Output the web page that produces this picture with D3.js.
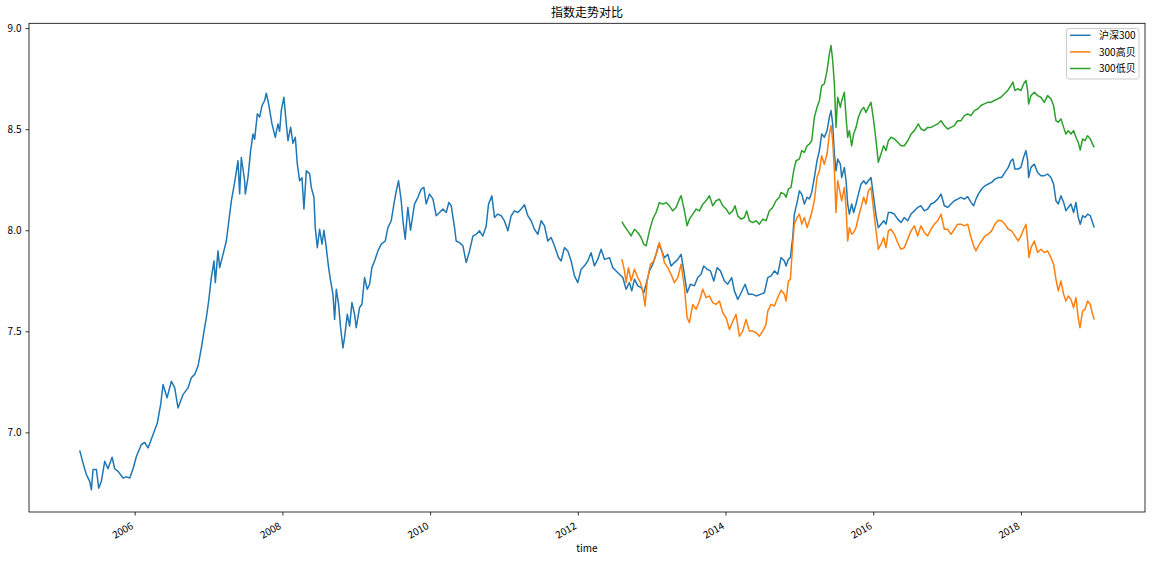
<!DOCTYPE html>
<html><head><meta charset="utf-8">
<script src="https://cdn.jsdelivr.net/npm/d3@7"></script>
<style>
body{margin:0;background:#fff}
text{font-family:"Noto Sans CJK SC","Noto Sans",sans-serif}
</style>
</head><body>
<svg id="c" width="1154" height="562"></svg>
<script>
const chartTitle = "指数走势对比";
const xLabel = "time";
const seriesNames = ["沪深300", "300高贝", "300低贝"];
const seriesColors = ["#1f77b4", "#ff7f0e", "#2ca02c"];
const xTickYears = [2006, 2008, 2010, 2012, 2014, 2016, 2018];
const yTickValues = [7.0, 7.5, 8.0, 8.5, 9.0];

// [decimal year, value]
const hs300 = [
[2005.256,6.911],[2005.301,6.848],[2005.346,6.791],[2005.391,6.758],[2005.414,6.716],[2005.436,6.816],[2005.482,6.816],[2005.513,6.724],[2005.549,6.758],[2005.594,6.857],[2005.639,6.82],[2005.694,6.877],[2005.730,6.82],[2005.775,6.807],[2005.843,6.774],[2005.888,6.78],[2005.933,6.774],[2005.978,6.82],[2006.023,6.881],[2006.091,6.94],[2006.136,6.95],[2006.181,6.923],[2006.249,6.989],[2006.307,7.047],[2006.352,7.138],[2006.384,7.237],[2006.438,7.171],[2006.497,7.253],[2006.542,7.22],[2006.587,7.121],[2006.655,7.187],[2006.722,7.22],[2006.767,7.27],[2006.813,7.287],[2006.858,7.328],[2006.903,7.418],[2006.939,7.501],[2006.970,7.567],[2007.002,7.65],[2007.038,7.766],[2007.074,7.848],[2007.092,7.741],[2007.128,7.898],[2007.151,7.815],[2007.196,7.881],[2007.241,7.947],[2007.309,8.145],[2007.353,8.236],[2007.399,8.344],[2007.421,8.18],
[2007.444,8.36],[2007.489,8.245],[2007.498,8.179],[2007.534,8.261],[2007.570,8.394],[2007.602,8.476],[2007.624,8.45],[2007.661,8.576],[2007.692,8.56],[2007.724,8.617],[2007.760,8.642],[2007.782,8.678],[2007.814,8.625],[2007.859,8.526],[2007.904,8.46],[2007.940,8.526],[2007.963,8.49],[2007.985,8.592],[2008.021,8.658],[2008.053,8.526],[2008.076,8.443],[2008.112,8.51],[2008.143,8.43],[2008.175,8.46],[2008.202,8.328],[2008.233,8.245],[2008.265,8.26],[2008.292,8.105],[2008.324,8.294],[2008.369,8.28],[2008.391,8.212],[2008.427,8.163],[2008.445,8.013],[2008.473,7.914],[2008.504,8.005],[2008.536,7.931],[2008.563,8.0],[2008.594,7.914],[2008.626,7.815],[2008.653,7.749],[2008.685,7.683],[2008.707,7.559],[2008.730,7.708],[2008.761,7.634],[2008.788,7.518],[2008.820,7.418],[2008.842,7.47],[2008.879,7.584],[2008.910,7.526],[2008.942,7.642],[2008.978,7.584],[2009.000,7.518],[2009.045,7.617],[2009.077,7.634],[2009.113,7.766],[2009.149,7.708],[2009.181,7.733],[2009.212,7.815],[2009.248,7.848],[2009.294,7.898],[2009.339,7.931],[2009.393,7.947],[2009.429,8.013],[2009.474,8.047],[2009.510,8.129],[2009.542,8.195],[2009.573,8.245],[2009.609,8.146],[2009.632,8.047],
[2009.663,7.956],[2009.699,8.113],[2009.735,8.0],[2009.789,8.129],[2009.835,8.163],[2009.880,8.204],[2009.916,8.212],[2009.947,8.13],[2009.992,8.179],[2010.038,8.155],[2010.083,8.072],[2010.128,8.088],[2010.173,8.105],[2010.218,8.088],[2010.254,8.138],[2010.286,8.121],[2010.331,8.013],[2010.353,7.947],[2010.398,7.939],[2010.444,7.923],[2010.489,7.84],[2010.534,7.897],[2010.579,7.971],[2010.624,7.98],[2010.669,7.997],[2010.714,7.971],[2010.759,8.02],[2010.791,8.129],[2010.836,8.17],[2010.872,8.063],[2010.917,8.08],[2010.962,8.072],[2011.007,8.046],[2011.053,7.997],[2011.098,8.072],[2011.143,8.096],[2011.188,8.088],[2011.233,8.105],[2011.278,8.126],[2011.323,8.072],[2011.368,8.047],[2011.413,8.005],[2011.459,7.98],[2011.504,8.047],[2011.549,8.022],[2011.594,7.947],[2011.639,7.964],[2011.684,7.923],[2011.738,7.865],[2011.774,7.848],[2011.819,7.914],[2011.865,7.897],[2011.910,7.848],[2011.955,7.774],[2012.000,7.741],[2012.045,7.807],[2012.090,7.824],[2012.135,7.848],[2012.180,7.889],[2012.225,7.824],[2012.271,7.857],
[2012.316,7.906],[2012.361,7.856],[2012.429,7.864],[2012.474,7.815],[2012.542,7.79],[2012.609,7.766],[2012.654,7.708],[2012.699,7.741],[2012.731,7.70],[2012.767,7.758],[2012.812,7.725],[2012.857,7.717],[2012.893,7.691],[2012.925,7.733],[2012.970,7.799],[2013.015,7.832],[2013.060,7.881],[2013.096,7.931],[2013.128,7.906],[2013.173,7.864],[2013.218,7.881],[2013.263,7.823],[2013.308,7.84],[2013.354,7.856],[2013.399,7.881],[2013.435,7.799],[2013.480,7.691],[2013.525,7.733],[2013.579,7.725],[2013.624,7.766],[2013.669,7.782],[2013.705,7.823],[2013.751,7.807],[2013.796,7.799],[2013.841,7.749],[2013.886,7.815],[2013.931,7.799],[2013.985,7.749],[2014.030,7.733],[2014.084,7.766],[2014.120,7.70],[2014.166,7.658],[2014.211,7.691],[2014.265,7.733],[2014.310,7.683],[2014.369,7.683],[2014.414,7.675],[2014.472,7.683],[2014.526,7.691],[2014.572,7.766],[2014.617,7.774],[2014.662,7.799],[2014.707,7.782],
[2014.752,7.865],[2014.797,7.848],[2014.820,7.823],[2014.851,7.856],[2014.878,7.865],[2014.910,7.964],[2014.932,8.08],[2014.969,8.137],[2015.000,8.195],[2015.032,8.179],[2015.068,8.13],[2015.104,8.163],[2015.135,8.155],[2015.167,8.187],[2015.203,8.261],[2015.239,8.344],[2015.271,8.394],[2015.302,8.476],[2015.338,8.46],[2015.375,8.493],[2015.406,8.559],[2015.429,8.592],[2015.451,8.526],[2015.474,8.377],[2015.496,8.294],[2015.519,8.352],[2015.555,8.327],[2015.573,8.261],[2015.609,8.311],[2015.632,8.245],[2015.654,8.13],[2015.677,8.08],[2015.708,8.13],[2015.735,8.088],[2015.767,8.13],[2015.799,8.179],[2015.835,8.229],[2015.871,8.245],[2015.902,8.229],[2015.934,8.245],[2015.970,8.261],[2016.006,8.163],[2016.038,8.072],[2016.069,8.013],[2016.105,8.03],[2016.141,8.047],[2016.173,8.03],[2016.205,8.088],
[2016.241,8.088],[2016.286,8.08],[2016.331,8.055],[2016.376,8.038],[2016.421,8.063],[2016.467,8.047],[2016.512,8.08],[2016.557,8.096],[2016.602,8.113],[2016.647,8.121],[2016.692,8.096],[2016.737,8.105],[2016.782,8.13],[2016.827,8.138],[2016.873,8.154],[2016.918,8.179],[2016.963,8.121],[2017.008,8.113],[2017.053,8.13],[2017.098,8.146],[2017.143,8.154],[2017.188,8.163],[2017.233,8.154],[2017.279,8.166],[2017.324,8.138],[2017.360,8.121],[2017.391,8.154],[2017.423,8.179],[2017.468,8.204],[2017.513,8.22],[2017.558,8.229],[2017.603,8.237],[2017.648,8.253],[2017.694,8.261],[2017.739,8.261],[2017.784,8.286],[2017.829,8.311],[2017.865,8.344],[2017.892,8.352],[2017.919,8.303],[2017.964,8.303],[2018.000,8.311],[2018.036,8.361],[2018.068,8.394],[2018.091,8.344],[2018.104,8.261],[2018.136,8.311],[2018.181,8.327],[2018.226,8.286],[2018.271,8.27],[2018.316,8.27],[2018.361,8.278],[2018.406,8.261],[2018.442,8.229],[2018.474,8.146],[2018.506,8.13],[2018.542,8.171],[2018.578,8.138],[2018.609,8.096],[2018.641,8.113],[2018.677,8.13],[2018.713,8.088],[2018.745,8.138],[2018.776,8.063],[2018.803,8.03],[2018.835,8.072],[2018.867,8.063],[2018.903,8.08],[2018.939,8.072],[2018.970,8.038],[2018.993,8.013]
];

const highBeta = [
[2012.596,7.857],[2012.632,7.799],[2012.654,7.741],[2012.686,7.815],[2012.722,7.749],[2012.767,7.807],[2012.812,7.766],[2012.848,7.741],[2012.880,7.70],[2012.911,7.625],[2012.939,7.749],[2012.984,7.832],[2013.029,7.848],[2013.060,7.881],[2013.105,7.939],[2013.137,7.898],[2013.173,7.84],[2013.218,7.815],[2013.263,7.782],[2013.308,7.741],[2013.354,7.766],[2013.399,7.832],[2013.444,7.717],[2013.480,7.567],[2013.511,7.543],[2013.557,7.633],[2013.602,7.609],[2013.647,7.65],[2013.692,7.708],[2013.737,7.667],[2013.782,7.675],[2013.827,7.642],[2013.872,7.633],[2013.917,7.65],[2013.963,7.592],[2014.008,7.567],[2014.053,7.509],[2014.098,7.55],[2014.143,7.584],[2014.188,7.476],[2014.233,7.501],[2014.278,7.559],[2014.323,7.501],[2014.369,7.501],[2014.414,7.493],[2014.459,7.476],[2014.504,7.501],[2014.549,7.534],[2014.572,7.6],[2014.617,7.633],[2014.662,7.625],[2014.707,7.667],
[2014.752,7.703],[2014.797,7.683],[2014.820,7.65],[2014.851,7.749],[2014.878,7.757],[2014.910,7.931],[2014.932,8.03],[2014.969,8.063],[2015.000,8.08],[2015.032,8.03],[2015.068,8.063],[2015.104,8.013],[2015.135,8.047],[2015.167,8.088],[2015.203,8.146],[2015.239,8.261],[2015.271,8.294],[2015.302,8.369],[2015.338,8.327],[2015.375,8.377],[2015.406,8.476],[2015.429,8.518],[2015.451,8.443],[2015.474,8.294],[2015.496,8.088],[2015.519,8.245],[2015.555,8.179],[2015.573,8.146],[2015.609,8.212],[2015.632,8.113],[2015.654,7.947],[2015.677,8.013],[2015.708,7.98],[2015.735,7.989],[2015.767,8.013],[2015.799,8.063],[2015.835,8.113],[2015.871,8.163],[2015.902,8.13],[2015.934,8.195],[2015.970,8.212],[2016.006,8.096],[2016.038,7.997],[2016.069,7.906],[2016.105,7.931],[2016.141,7.964],[2016.173,7.914],[2016.205,7.997],
[2016.241,8.005],[2016.286,7.98],[2016.331,7.939],[2016.376,7.906],[2016.421,7.914],[2016.467,7.956],[2016.512,7.997],[2016.557,8.022],[2016.602,7.972],[2016.647,8.022],[2016.692,7.989],[2016.737,7.972],[2016.782,8.005],[2016.827,8.03],[2016.873,8.047],[2016.918,8.08],[2016.963,8.005],[2017.008,8.005],[2017.053,7.98],[2017.098,8.005],[2017.143,8.03],[2017.188,8.03],[2017.233,8.022],[2017.279,8.03],[2017.324,7.964],[2017.360,7.923],[2017.391,7.898],[2017.423,7.923],[2017.468,7.947],[2017.513,7.972],[2017.558,7.98],[2017.603,7.997],[2017.648,8.03],[2017.694,8.05],[2017.739,8.047],[2017.784,8.03],[2017.829,8.005],[2017.874,7.997],[2017.919,7.972],[2017.964,7.947],[2018.009,7.98],[2018.036,8.005],[2018.068,8.03],[2018.091,7.947],[2018.109,7.865],[2018.136,7.914],[2018.181,7.947],[2018.226,7.89],[2018.271,7.906],[2018.316,7.89],[2018.361,7.898],[2018.406,7.865],[2018.442,7.832],[2018.474,7.758],[2018.506,7.7],[2018.542,7.749],[2018.578,7.683],[2018.609,7.65],[2018.641,7.675],[2018.677,7.658],[2018.713,7.617],[2018.745,7.667],[2018.776,7.567],[2018.799,7.518],[2018.835,7.6],[2018.867,7.609],[2018.903,7.65],[2018.939,7.633],[2018.970,7.584],[2018.993,7.559]
];

const lowBeta = [
[2012.596,8.043],[2012.632,8.021],[2012.677,7.997],[2012.722,7.972],[2012.767,8.005],[2012.812,7.989],[2012.857,7.964],[2012.893,7.931],[2012.925,7.923],[2012.970,7.997],[2013.015,8.055],[2013.060,8.088],[2013.105,8.137],[2013.151,8.129],[2013.196,8.137],[2013.241,8.121],[2013.286,8.096],[2013.331,8.113],[2013.376,8.154],[2013.399,8.171],[2013.444,8.096],[2013.480,8.022],[2013.511,8.055],[2013.557,8.08],[2013.602,8.105],[2013.647,8.096],[2013.692,8.129],[2013.737,8.146],[2013.782,8.171],[2013.827,8.121],[2013.872,8.146],[2013.917,8.154],[2013.963,8.121],[2014.008,8.105],[2014.053,8.08],[2014.098,8.096],[2014.129,8.121],[2014.166,8.071],[2014.211,8.055],[2014.256,8.063],[2014.287,8.096],[2014.323,8.047],[2014.369,8.038],[2014.414,8.047],[2014.459,8.03],[2014.504,8.055],[2014.549,8.047],[2014.594,8.096],[2014.639,8.113],[2014.684,8.146],[2014.729,8.163],
[2014.752,8.187],[2014.797,8.179],[2014.820,8.163],[2014.851,8.204],[2014.887,8.212],[2014.923,8.294],[2014.955,8.344],[2015.000,8.352],[2015.032,8.394],[2015.068,8.385],[2015.104,8.418],[2015.135,8.426],[2015.167,8.443],[2015.203,8.559],[2015.239,8.608],[2015.271,8.641],[2015.302,8.716],[2015.338,8.724],[2015.375,8.79],[2015.406,8.873],[2015.429,8.914],[2015.451,8.84],[2015.474,8.724],[2015.496,8.509],[2015.519,8.658],[2015.555,8.608],[2015.573,8.641],[2015.609,8.683],[2015.632,8.559],[2015.654,8.46],[2015.677,8.493],[2015.708,8.418],[2015.735,8.476],[2015.767,8.509],[2015.799,8.559],[2015.835,8.592],[2015.871,8.608],[2015.902,8.583],[2015.934,8.608],[2015.970,8.633],[2016.006,8.542],[2016.038,8.443],[2016.069,8.336],[2016.105,8.377],[2016.141,8.418],[2016.173,8.394],[2016.205,8.443],
[2016.241,8.46],[2016.286,8.452],[2016.331,8.435],[2016.376,8.418],[2016.421,8.418],[2016.467,8.443],[2016.512,8.476],[2016.557,8.493],[2016.611,8.526],[2016.647,8.501],[2016.692,8.493],[2016.737,8.509],[2016.782,8.509],[2016.827,8.518],[2016.873,8.526],[2016.918,8.542],[2016.963,8.518],[2017.008,8.501],[2017.053,8.509],[2017.098,8.518],[2017.143,8.542],[2017.188,8.542],[2017.233,8.567],[2017.279,8.575],[2017.324,8.567],[2017.369,8.592],[2017.414,8.6],[2017.459,8.617],[2017.504,8.625],[2017.549,8.633],[2017.594,8.633],[2017.639,8.642],[2017.685,8.65],[2017.730,8.658],[2017.775,8.675],[2017.820,8.691],[2017.865,8.716],[2017.892,8.733],[2017.919,8.691],[2017.955,8.7],[2018.000,8.691],[2018.036,8.724],[2018.068,8.741],[2018.091,8.691],[2018.104,8.625],[2018.136,8.666],[2018.181,8.683],[2018.226,8.666],[2018.271,8.658],[2018.316,8.633],[2018.361,8.666],[2018.406,8.65],[2018.442,8.617],[2018.474,8.542],[2018.506,8.534],[2018.542,8.551],[2018.578,8.509],[2018.609,8.476],[2018.641,8.493],[2018.677,8.476],[2018.713,8.493],[2018.745,8.46],[2018.776,8.435],[2018.803,8.397],[2018.835,8.452],[2018.867,8.443],[2018.903,8.468],[2018.939,8.452],[2018.970,8.426],[2018.993,8.41]
];

const series = [hs300, highBeta, lowBeta];

const svg = d3.select("#c");
const L = 29, R = 1145, T = 23.3, B = 512;

const all = series.flat();
const [tMin, tMax] = d3.extent(all, d => d[0]);
const [vMin, vMax] = d3.extent(all, d => d[1]);
const tPad = (tMax - tMin) * 0.05, vPad = (vMax - vMin) * 0.05;

const x = d3.scaleLinear().domain([tMin - tPad, tMax + tPad]).range([L, R]);
const y = d3.scaleLinear().domain([vMin - vPad, vMax + vPad]).range([B, T]);

svg.append("defs").append("clipPath").attr("id", "clip")
  .append("rect").attr("x", L).attr("y", T).attr("width", R - L).attr("height", B - T);

const line = d3.line().x(d => x(d[0])).y(d => y(d[1]));
const g = svg.append("g").attr("clip-path", "url(#clip)");
series.forEach((s, i) => {
  g.append("path").datum(s).attr("d", line)
    .attr("fill", "none").attr("stroke", seriesColors[i])
    .attr("stroke-width", 1.5).attr("stroke-linejoin", "round");
});

// x axis
const xa = svg.append("g").attr("transform", `translate(0,${B})`)
  .call(d3.axisBottom(x).tickValues(xTickYears).tickFormat(d3.format("d")).tickSizeOuter(0).tickSize(3.5));
xa.select(".domain").remove();
xa.selectAll(".tick line").attr("stroke", "#000").attr("stroke-width", 0.8);
xa.selectAll(".tick text")
  .attr("y", 0).attr("dy", 0)
  .attr("transform", "translate(-1,16) rotate(-30)")
  .attr("text-anchor", "end")
  .attr("font-size", 10).attr("fill", "#000")
  .style("font-family", '"Noto Sans CJK SC","Noto Sans",sans-serif');

// y axis
const ya = svg.append("g").attr("transform", `translate(${L},0)`)
  .call(d3.axisLeft(y).tickValues(yTickValues).tickFormat(d3.format(".1f")).tickSizeOuter(0).tickSize(3.5).tickPadding(4));
ya.select(".domain").remove();
ya.selectAll(".tick line").attr("stroke", "#000").attr("stroke-width", 0.8);
ya.selectAll(".tick text").attr("font-size", 10).attr("fill", "#000")
  .style("font-family", '"Noto Sans CJK SC","Noto Sans",sans-serif');

// frame
svg.append("rect").attr("x", L).attr("y", T).attr("width", R - L).attr("height", B - T)
  .attr("fill", "none").attr("stroke", "#000").attr("stroke-width", 0.8);

// title & label
svg.append("text").attr("x", (L + R) / 2).attr("y", 17).attr("text-anchor", "middle")
  .attr("font-size", 12).attr("fill", "#000").text(chartTitle);
svg.append("text").attr("x", (L + R) / 2).attr("y", 552).attr("text-anchor", "middle")
  .attr("font-size", 10).attr("fill", "#000").text(xLabel);

// legend
const lg = svg.append("g");
lg.append("rect").attr("x", 1066.5).attr("y", 28.5).attr("width", 72.5).attr("height", 50.5)
  .attr("rx", 2.5).attr("fill", "#fff").attr("fill-opacity", 0.8).attr("stroke", "#cccccc").attr("stroke-width", 1);
seriesNames.forEach((n, i) => {
  const yy = 35.3 + i * 16.6;
  lg.append("line").attr("x1", 1070).attr("x2", 1090.5).attr("y1", yy).attr("y2", yy)
    .attr("stroke", seriesColors[i]).attr("stroke-width", 1.5);
  lg.append("text").attr("x", 1099).attr("y", yy).attr("dy", "0.36em")
    .attr("font-size", 10).attr("fill", "#000").text(n);
});
</script>
</body></html>
